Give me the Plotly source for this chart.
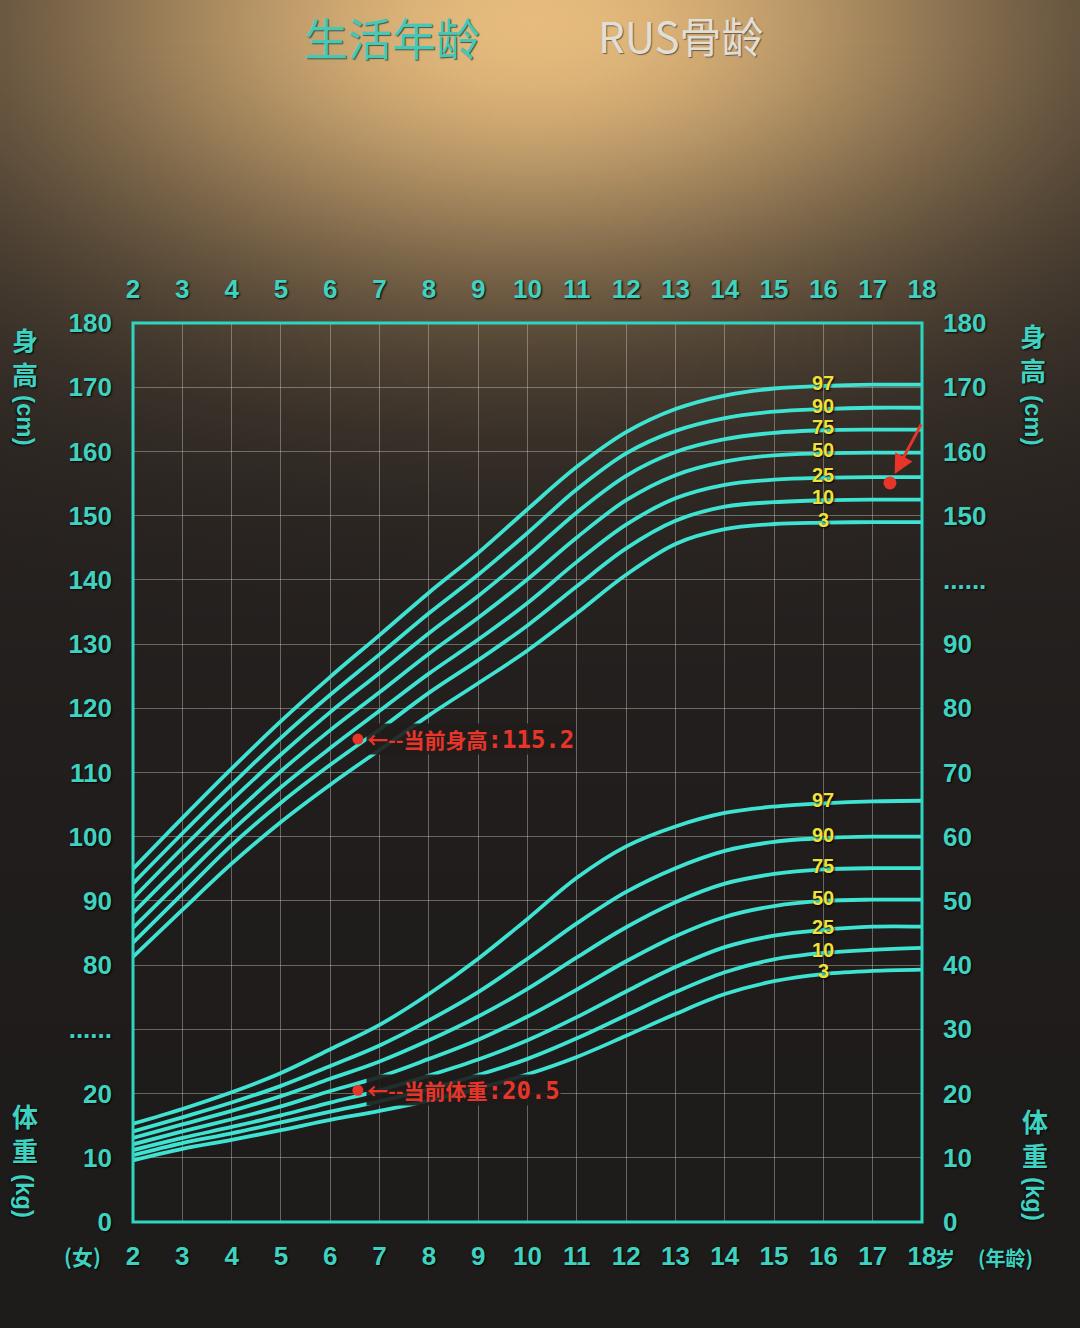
import base64, struct, zlib
import numpy as np
import plotly.graph_objects as go

# ---------------- data ----------------
ages = list(range(2, 19))
percentiles = ["3", "10", "25", "50", "75", "90", "97"]

h3  = [81.3, 88.6, 95.8, 102.3, 108.1, 113.5, 118.9, 123.9, 129.0, 134.8, 140.8, 145.6, 147.9, 148.7, 148.9, 149.0, 149.0]
h10 = [83.5, 91.1, 98.7, 105.3, 111.2, 116.7, 122.4, 127.5, 132.9, 139.0, 144.9, 149.2, 151.4, 152.1, 152.4, 152.5, 152.5]
h25 = [85.8, 93.4, 100.9, 107.7, 113.8, 119.6, 125.4, 130.7, 136.4, 142.8, 148.6, 152.7, 154.8, 155.6, 155.9, 156.0, 156.0]
h50 = [88.1, 95.8, 103.2, 110.2, 116.6, 122.5, 128.5, 134.1, 140.1, 146.6, 152.4, 156.3, 158.4, 159.4, 159.7, 159.8, 159.8]
h75 = [90.4, 98.2, 105.7, 112.8, 119.4, 125.5, 131.7, 137.5, 143.8, 150.5, 156.2, 159.9, 161.9, 162.9, 163.3, 163.4, 163.4]
h90 = [92.7, 100.5, 108.1, 115.4, 122.1, 128.4, 134.8, 140.8, 147.3, 154.1, 159.7, 163.2, 165.2, 166.2, 166.6, 166.8, 166.8]
h97 = [95.0, 102.9, 110.6, 118.0, 124.9, 131.4, 138.0, 144.2, 151.0, 157.6, 163.0, 166.6, 168.7, 169.8, 170.2, 170.4, 170.4]

w3  = [9.6, 11.4, 12.8, 14.3, 15.9, 17.3, 18.9, 20.8, 23.0, 25.7, 29.0, 32.4, 35.5, 37.5, 38.6, 39.1, 39.3]
w10 = [10.4, 12.3, 13.8, 15.5, 17.2, 18.8, 20.7, 22.9, 25.4, 28.6, 32.2, 35.8, 38.9, 40.9, 41.9, 42.4, 42.7]
w25 = [11.2, 13.1, 14.8, 16.6, 18.6, 20.5, 22.8, 25.3, 28.3, 31.9, 35.9, 39.7, 42.8, 44.6, 45.5, 46.0, 46.0]
w50 = [12.1, 14.1, 16.0, 18.0, 20.4, 22.6, 25.4, 28.4, 32.0, 36.2, 40.6, 44.5, 47.5, 49.2, 50.0, 50.2, 50.2]
w75 = [13.1, 15.2, 17.3, 19.6, 22.3, 25.0, 28.3, 32.0, 36.3, 41.2, 45.9, 49.8, 52.7, 54.2, 54.9, 55.1, 55.1]
w90 = [14.1, 16.3, 18.6, 21.2, 24.3, 27.5, 31.4, 35.8, 41.0, 46.5, 51.4, 55.1, 57.8, 59.2, 59.8, 60.0, 60.0]
w97 = [15.3, 17.6, 20.2, 23.2, 26.9, 30.7, 35.5, 41.0, 47.2, 53.6, 58.5, 61.6, 63.7, 64.7, 65.2, 65.5, 65.6]

height_curves = [h3, h10, h25, h50, h75, h90, h97]
weight_curves = [w3, w10, w25, w50, w75, w90, w97]

current_age = [6.56]
current_height = [115.2]
current_weight = [20.5]
bone_age = [17.35]
bone_height = [155.1]

x_ticks = list(range(2, 19))
x_ticktext = [str(a) for a in x_ticks]
left_tickvals = list(range(40, 181, 10))
left_ticktext = ["0", "10", "20", "......", "80", "90", "100", "110", "120", "130",
                 "140", "150", "160", "170", "180"]
right_tickvals = list(range(0, 141, 10))
right_ticktext = ["0", "10", "20", "30", "40", "50", "60", "70", "80", "90",
                  "......", "150", "160", "170", "180"]

# ---------------- layout geometry ----------------
W, H = 1080, 1328
ML, MR, MT, MB = 133, 158, 323, 106
PW, PH = W - ML - MR, H - MT - MB

def px(x):
    return (x - ML) / PW

def py(y):
    return (H - MB - y) / PH

# ---------------- photo-like background (generated gradient PNG) ----------------
def make_bg():
    w, h = 270, 332
    X = np.arange(w)[None, :] * (W / w)
    Y = np.arange(h)[:, None] * (H / h)
    d2 = ((X - 530) / 880.0) ** 2 + ((Y - 20) / 470.0) ** 2
    t = np.exp(-d2 * 3.0)
    t2 = np.exp(-((Y) / 900.0) ** 2 * 2.0) * 0.25
    dark = np.array([30, 27, 27], float)
    bright = np.array([214, 174, 116], float)
    mid = np.array([95, 80, 64], float)
    img = dark + (mid - dark) * t2[..., None] + (bright - dark) * t[..., None]
    img = np.clip(img, 0, 255).astype(np.uint8)
    raw = b"".join(b"\x00" + img[r].tobytes() for r in range(h))

    def chunk(tag, data):
        return (struct.pack(">I", len(data)) + tag + data +
                struct.pack(">I", zlib.crc32(tag + data) & 0xFFFFFFFF))

    png = (b"\x89PNG\r\n\x1a\n" +
           chunk(b"IHDR", struct.pack(">IIBBBBB", w, h, 8, 2, 0, 0, 0)) +
           chunk(b"IDAT", zlib.compress(raw, 9)) + chunk(b"IEND", b""))
    return "data:image/png;base64," + base64.b64encode(png).decode()

TEAL = "#3fd2c0"
CURVE = "#3ee3d2"
YELLOW = "#f0e23a"
RED = "#e8352a"
FONT = "Liberation Sans, Noto Sans CJK SC, sans-serif"
CJK = "Noto Sans CJK SC, sans-serif"
SHADOW = "1px 1px 2px rgba(0,0,0,0.95)"

fig = go.Figure()

for vals in height_curves:
    fig.add_trace(go.Scatter(x=ages, y=vals, mode="lines", xaxis="x", yaxis="y",
                             line=dict(color=CURVE, width=3.8, shape="spline", smoothing=1.0),
                             hoverinfo="skip", showlegend=False))
for vals in weight_curves:
    fig.add_trace(go.Scatter(x=ages, y=vals, mode="lines", xaxis="x", yaxis="y2",
                             line=dict(color=CURVE, width=3.8, shape="spline", smoothing=1.0),
                             hoverinfo="skip", showlegend=False))

# invisible trace so top axis renders
fig.add_trace(go.Scatter(x=[ages[0], ages[-1]], y=[left_tickvals[0], left_tickvals[0]],
                         xaxis="x2", yaxis="y", mode="none", hoverinfo="skip", showlegend=False))

# current points
fig.add_trace(go.Scatter(x=current_age, y=current_height, mode="markers", xaxis="x", yaxis="y",
                         marker=dict(color=RED, size=11), hoverinfo="skip", showlegend=False))
fig.add_trace(go.Scatter(x=current_age, y=current_weight, mode="markers", xaxis="x", yaxis="y2",
                         marker=dict(color=RED, size=11), hoverinfo="skip", showlegend=False))
fig.add_trace(go.Scatter(x=bone_age, y=bone_height, mode="markers", xaxis="x", yaxis="y",
                         marker=dict(color=RED, size=13), hoverinfo="skip", showlegend=False))

annotations = []
# percentile labels at age 16
lab_idx = ages.index(16)
for p, vals in zip(percentiles, height_curves):
    annotations.append(dict(x=16, y=vals[lab_idx], xref="x", yref="y", text=p, showarrow=False,
                            yshift=3, font=dict(family=FONT, size=20, color=YELLOW, weight="bold",
                                                shadow=SHADOW)))
for p, vals in zip(percentiles, weight_curves):
    annotations.append(dict(x=16, y=vals[lab_idx], xref="x", yref="y2", text=p, showarrow=False,
                            yshift=3, font=dict(family=FONT, size=20, color=YELLOW, weight="bold",
                                                shadow=SHADOW)))

# current value labels
MONO = "font-family:DejaVu Sans Mono;font-size:24px"
annotations.append(dict(x=current_age[0], y=current_height[0], xref="x", yref="y",
                        text="←--当前身高<span style='%s'>:%.1f</span>" % (MONO, current_height[0]),
                        showarrow=False, xanchor="left", yanchor="middle", xshift=8,
                        bgcolor="rgba(32,28,27,0.9)", borderpad=0,
                        font=dict(family=CJK, size=21, color=RED, weight="bold")))
annotations.append(dict(x=current_age[0], y=current_weight[0], xref="x", yref="y2",
                        text="←--当前体重<span style='%s'>:%.1f</span>" % (MONO, current_weight[0]),
                        showarrow=False, xanchor="left", yanchor="middle", xshift=8,
                        bgcolor="rgba(30,27,26,0.9)", borderpad=0,
                        font=dict(family=CJK, size=21, color=RED, weight="bold")))

# hand-drawn red arrow to bone-age point
annotations.append(dict(x=bone_age[0], y=bone_height[0], xref="x", yref="y", text="",
                        showarrow=True, arrowhead=2, arrowsize=1.3, arrowwidth=3,
                        arrowcolor=RED, standoff=10, ax=32, ay=-60))

def pann(xp, yp, text, font, **kw):
    d = dict(x=px(xp), y=py(yp), xref="paper", yref="paper", text=text, showarrow=False,
             xanchor="center", yanchor="middle", font=font)
    d.update(kw)
    return d

# titles
annotations.append(pann(392, 37, "生活年龄",
                        dict(family=CJK, size=44, color="#45c8b6",
                             shadow="1px 1px 1px rgba(40,60,50,0.8)")))
annotations.append(pann(681, 35, "RUS骨龄",
                        dict(family=CJK, size=42, color="#e2ded4",
                             shadow="1px 1px 1px rgba(80,70,60,0.8)")))

# vertical axis titles (stacked characters + rotated unit)
def vtitle(xp, y_mid, chars, unit, unit_y):
    f = dict(family=CJK, size=26, color=TEAL, weight="bold", shadow=SHADOW)
    return [pann(xp, y_mid, "<br>".join(chars), f),
            pann(xp, unit_y, unit,
                 dict(family=FONT, size=24, color=TEAL, weight="bold", shadow=SHADOW),
                 textangle=90)]

annotations += vtitle(25, 356, ["身", "高"], "(cm)", 420)
annotations += vtitle(1033, 352, ["身", "高"], "(cm)", 420)
annotations += vtitle(25, 1132, ["体", "重"], "(kg)", 1196)
annotations += vtitle(1035, 1137, ["体", "重"], "(kg)", 1199)

small = dict(family=CJK, size=21, color=TEAL, weight="bold", shadow=SHADOW)
annotations.append(pann(82, 1256, "(女)", small))
annotations.append(pann(945, 1258, "岁", dict(family=CJK, size=20, color=TEAL, weight="bold",
                                               shadow=SHADOW)))
annotations.append(pann(1005, 1257, "(年龄)", dict(family=CJK, size=20, color=TEAL,
                                                  weight="bold", shadow=SHADOW)))

tickfont = dict(family=FONT, size=26, color=TEAL, weight="bold", shadow=SHADOW)
GRID = "rgba(205,205,195,0.42)"

fig.update_layout(
    width=W, height=H,
    margin=dict(l=ML, r=MR, t=MT, b=MB, pad=0),
    paper_bgcolor="#1e1b1b",
    plot_bgcolor="rgba(0,0,0,0)",
    showlegend=False,
    annotations=annotations,
    images=[dict(source=make_bg(), xref="paper", yref="paper",
                 x=-ML / PW, y=1 + MT / PH, sizex=W / PW, sizey=H / PH,
                 sizing="stretch", layer="below", xanchor="left", yanchor="top")],
    shapes=[dict(type="rect", xref="paper", yref="paper", x0=0, y0=0, x1=1, y1=1,
                 line=dict(color="#2ed6c2", width=3), layer="above")],
    xaxis=dict(range=[ages[0], ages[-1]], tickvals=x_ticks, ticktext=x_ticktext,
               showgrid=True, gridcolor=GRID, gridwidth=1, zeroline=False, showline=False,
               ticks="", ticklabelstandoff=16, tickfont=tickfont, fixedrange=True),
    xaxis2=dict(range=[ages[0], ages[-1]], overlaying="x", side="top", anchor="y",
                tickvals=x_ticks, ticktext=x_ticktext, showgrid=False, zeroline=False,
                showline=False, ticks="", ticklabelstandoff=19, tickfont=tickfont),
    yaxis=dict(range=[left_tickvals[0], left_tickvals[-1]], tickvals=left_tickvals,
               ticktext=left_ticktext, showgrid=True, gridcolor=GRID, gridwidth=1,
               zeroline=False, showline=False, ticks="", ticklabelstandoff=20,
               tickfont=tickfont),
    yaxis2=dict(range=[right_tickvals[0], right_tickvals[-1]], overlaying="y", side="right",
                tickvals=right_tickvals, ticktext=right_ticktext, showgrid=False,
                zeroline=False, showline=False, ticks="", ticklabelstandoff=20,
                tickfont=tickfont),
)

fig.write_html("out.html", config={"displayModeBar": False},
               post_script="document.body.style.margin='0';")
